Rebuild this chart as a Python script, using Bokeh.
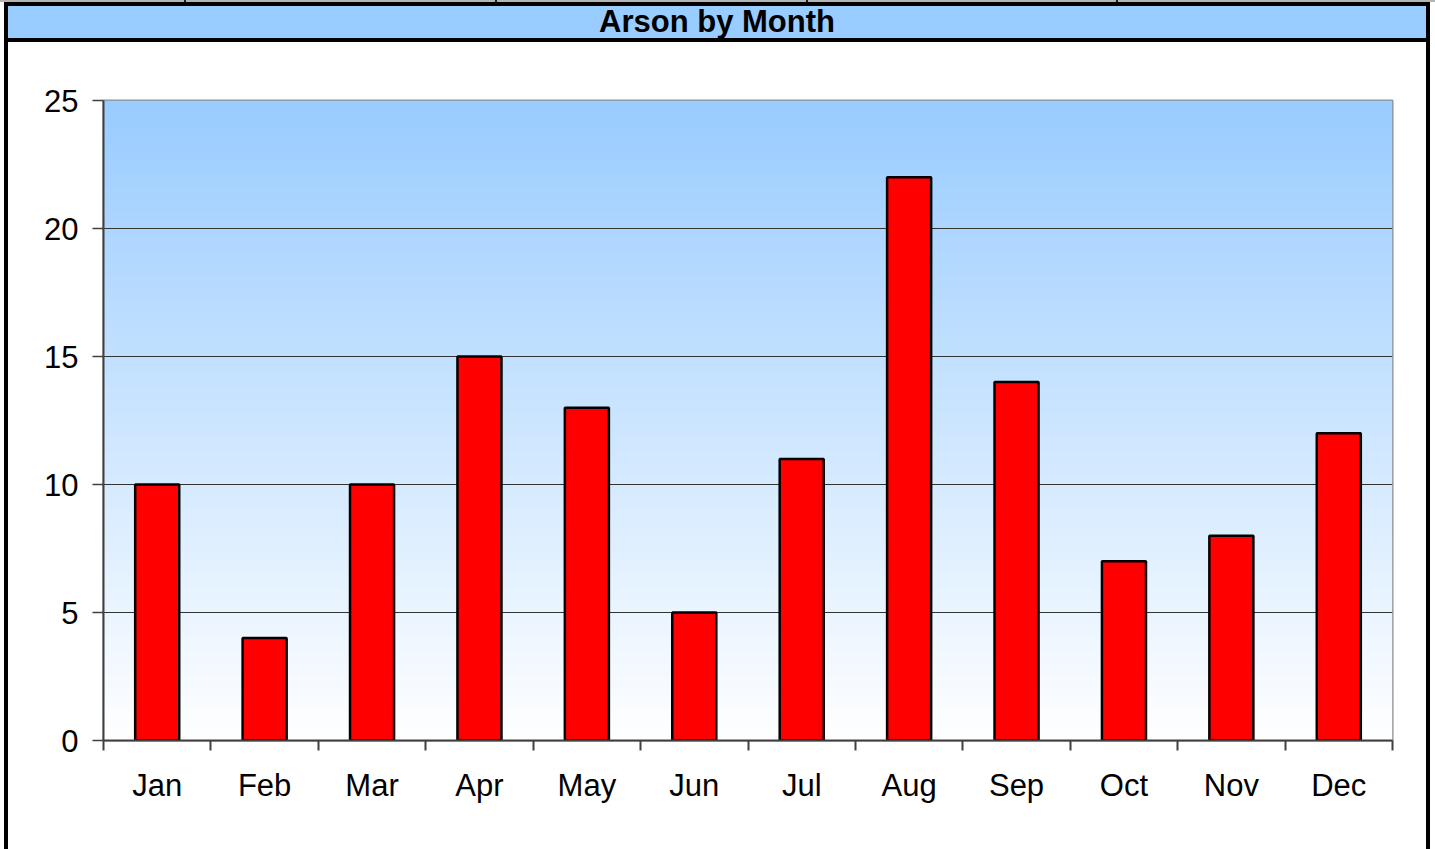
import numpy as np
from bokeh.plotting import figure
from bokeh.models import Range1d, FixedTicker, Div
from bokeh.layouts import column, row
from bokeh.embed import file_html
from bokeh.resources import INLINE

# ---- data ----
months = ["Jan", "Feb", "Mar", "Apr", "May", "Jun", "Jul", "Aug", "Sep", "Oct", "Nov", "Dec"]
arsons = [10, 4, 10, 15, 13, 5, 11, 22, 14, 7, 8, 12]
y_ticks = [0, 5, 10, 15, 20, 25]
title_text = "Arson by Month"

FONT = "Liberation Sans"
W, H = 1435, 849
HEAD = 42
FIG_W = 1418
FIG_H = H - HEAD

xpos = [i + 0.5 for i in range(len(months))]

p = figure(width=FIG_W, height=FIG_H, output_backend="svg", toolbar_location=None,
           x_range=Range1d(0, len(months)), y_range=Range1d(0, 25),
           min_border_left=95, min_border_right=34, min_border_top=58, min_border_bottom=109)
p.background_fill_color = "white"
p.border_fill_color = "white"
p.outline_line_color = "#8c8c8c"
p.outline_line_width = 2

# gradient background of the plot area
N = 256
t = np.linspace(0, 1, N)
r = (255 - (255 - 153) * t).astype(np.uint32)
g = (255 - (255 - 204) * t).astype(np.uint32)
b = np.full(N, 255, dtype=np.uint32)
a = np.full(N, 255, dtype=np.uint32)
col = (a << 24) | (b << 16) | (g << 8) | r
img = np.repeat(col[:, None], 2, axis=1).astype(np.uint32)
p.image_rgba(image=[img], x=0, y=0, dw=len(months), dh=25, level="image")

# bars
p.vbar(x=xpos, top=arsons, width=0.41, fill_color="#ff0000", line_color="black", line_width=2.5)

# axes
xa = p.xaxis[0]
xa.ticker = FixedTicker(ticks=xpos, minor_ticks=list(range(len(months) + 1)))
xa.major_label_overrides = {x: m for x, m in zip(xpos, months)}
xa.major_tick_out = 0
xa.major_tick_in = 0
xa.minor_tick_out = 10
xa.minor_tick_in = 0
xa.minor_tick_line_color = "#404040"
xa.minor_tick_line_width = 2
xa.axis_line_color = "#404040"
xa.axis_line_width = 2
xa.major_label_standoff = 17
xa.major_label_text_font = FONT
xa.major_label_text_font_size = "31px"
xa.major_label_text_color = "black"

ya = p.yaxis[0]
ya.ticker = FixedTicker(ticks=y_ticks, minor_ticks=[])
ya.major_tick_out = 11
ya.major_tick_in = 0
ya.major_tick_line_color = "#404040"
ya.major_tick_line_width = 1.5
ya.axis_line_color = "#404040"
ya.axis_line_width = 2
ya.major_label_standoff = 14
ya.major_label_text_font = FONT
ya.major_label_text_font_size = "31px"
ya.major_label_text_color = "black"

p.xgrid.visible = False
p.ygrid.ticker = FixedTicker(ticks=y_ticks[1:-1])
p.ygrid.grid_line_color = "#333333"
p.ygrid.grid_line_width = 1

# header: grey top line, title band with black border
marks = "".join(
    f'<div style="position:absolute;left:{xm}px;top:0;width:2px;height:3px;background:#202020"></div>'
    for xm in [184, 495, 806, 1116])
header_html = (
    f'<div style="position:relative;box-sizing:border-box;width:{W}px;height:{HEAD}px;margin:0;padding:0;">'
    f'<div style="position:absolute;left:0;top:0;width:{W}px;height:2px;background:#b4b4b4"></div>'
    f'{marks}'
    f'<div style="position:absolute;box-sizing:border-box;left:4px;top:2px;width:1426px;height:40px;'
    f'border:4px solid black;background:#99ccff;color:black;'
    f"font-family:'{FONT}';font-weight:bold;font-size:31px;line-height:32px;"
    f'text-align:center;white-space:nowrap;">{title_text}</div>'
    f'</div>')
header = Div(text=header_html, width=W, height=HEAD, styles={"margin": "0", "padding": "0"})


def strip(w, color):
    return Div(text="", width=w, height=FIG_H,
               styles={"background-color": color, "margin": "0", "padding": "0"})


body = row(strip(4, "white"), strip(4, "black"), p, strip(4, "black"), strip(W - 4 - 4 - FIG_W - 4, "white"),
           spacing=0)
root = column(header, body, spacing=0)

open("out.html", "w").write(file_html(root, INLINE))
